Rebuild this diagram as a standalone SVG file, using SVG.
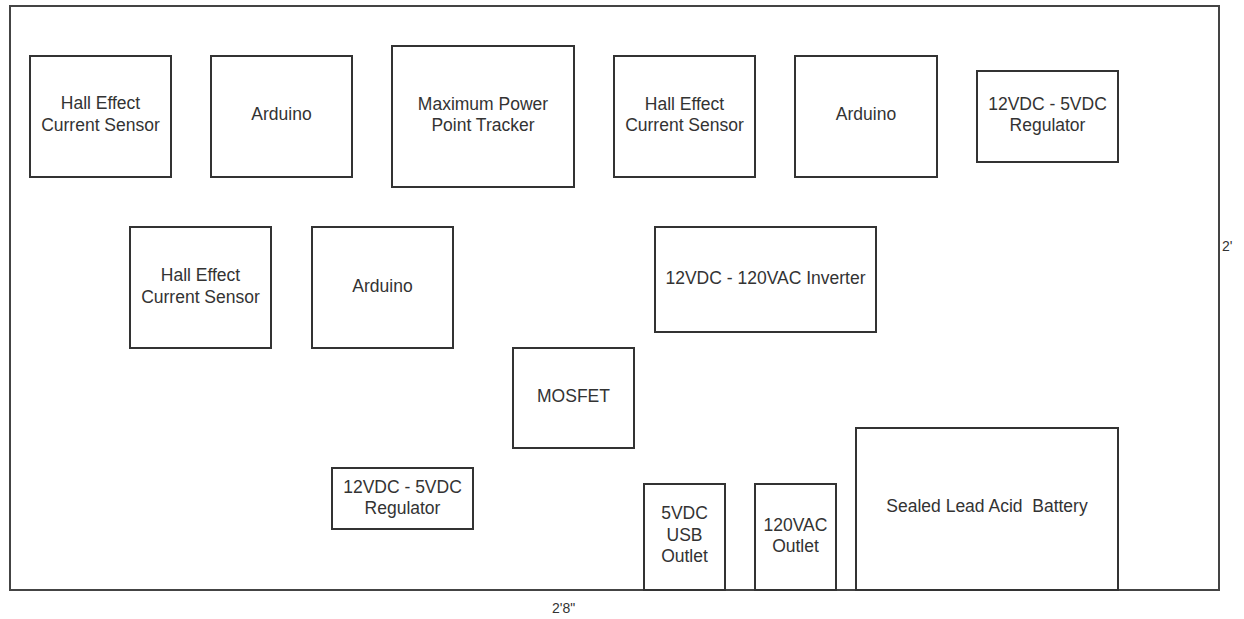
<svg xmlns="http://www.w3.org/2000/svg" width="1244" height="619" viewBox="0 0 1244 619">
<style>
rect.box{fill:#fff;stroke:#333;stroke-width:2}
rect.frame{fill:none;stroke:#444;stroke-width:2}
text{font-family:"Liberation Sans",Arial,sans-serif;font-size:17.5px;fill:#333;text-anchor:middle}
text.dim{font-size:14px;text-anchor:start}
</style>
<rect width="1244" height="619" fill="#fff"/>
<rect class="frame" x="10" y="6" width="1209" height="584"/>
<g id="hall1"><rect class="box" x="30" y="56" width="141" height="121"/><text x="100.5" y="109">Hall Effect</text><text x="100.5" y="131">Current Sensor</text></g>
<g id="arduino1"><rect class="box" x="211" y="56" width="141" height="121"/><text x="281.5" y="120">Arduino</text></g>
<g id="mppt"><rect class="box" x="392" y="46" width="182" height="141"/><text x="483" y="110">Maximum Power</text><text x="483" y="131">Point Tracker</text></g>
<g id="hall2"><rect class="box" x="614" y="56" width="141" height="121"/><text x="684.5" y="110">Hall Effect</text><text x="684.5" y="131">Current Sensor</text></g>
<g id="arduino2"><rect class="box" x="795" y="56" width="142" height="121"/><text x="866" y="120">Arduino</text></g>
<g id="regulator1"><rect class="box" x="977" y="71" width="141" height="91"/><text x="1047.5" y="110">12VDC - 5VDC</text><text x="1047.5" y="131">Regulator</text></g>
<g id="hall3"><rect class="box" x="130" y="227" width="141" height="121"/><text x="200.5" y="281">Hall Effect</text><text x="200.5" y="303">Current Sensor</text></g>
<g id="arduino3"><rect class="box" x="312" y="227" width="141" height="121"/><text x="382.5" y="292">Arduino</text></g>
<g id="inverter"><rect class="box" x="655" y="227" width="221" height="105"/><text x="765.5" y="284">12VDC - 120VAC Inverter</text></g>
<g id="mosfet"><rect class="box" x="513" y="348" width="121" height="100"/><text x="573.5" y="402">MOSFET</text></g>
<g id="regulator2"><rect class="box" x="332" y="468" width="141" height="61"/><text x="402.5" y="493">12VDC - 5VDC</text><text x="402.5" y="514">Regulator</text></g>
<g id="usb"><rect class="box" x="644" y="484" width="81" height="106"/><text x="684.5" y="519">5VDC</text><text x="684.5" y="541">USB</text><text x="684.5" y="562">Outlet</text></g>
<g id="acoutlet"><rect class="box" x="755" y="484" width="81" height="106"/><text x="795.5" y="531">120VAC</text><text x="795.5" y="552">Outlet</text></g>
<g id="battery"><rect class="box" x="856" y="428" width="262" height="162"/><text x="987" y="512" xml:space="preserve">Sealed Lead Acid  Battery</text></g>
<g id="connectors"></g>
<g id="dimensions"><text class="dim" x="1222" y="251">2'</text><text class="dim" x="552" y="613">2'8"</text></g>
</svg>
